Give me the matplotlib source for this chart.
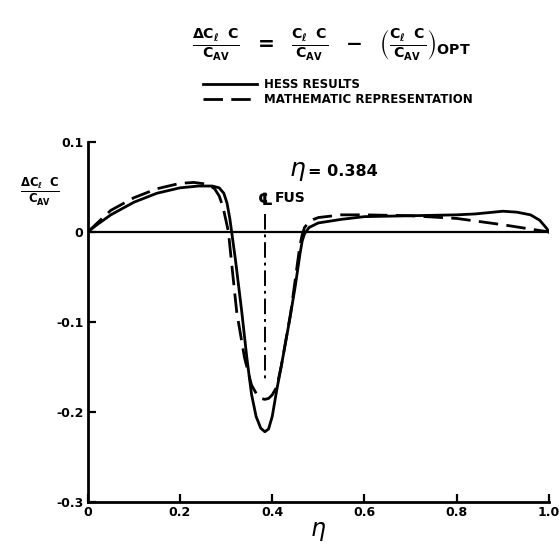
import matplotlib
matplotlib.use("Agg")
import matplotlib.pyplot as plt

# spanwise station and load increment
hess_eta = [0.0, 0.02, 0.05, 0.10, 0.15, 0.20, 0.24, 0.27, 0.285, 0.295, 0.302, 0.308,
            0.312, 0.32, 0.334, 0.345, 0.355, 0.365, 0.375, 0.384, 0.392, 0.40, 0.41,
            0.42, 0.438, 0.45, 0.46, 0.465, 0.47, 0.48, 0.50, 0.55, 0.60, 0.70, 0.80,
            0.84, 0.88, 0.90, 0.93, 0.96, 0.98, 0.995, 1.0]
hess_dcl = [0.0, 0.008, 0.019, 0.033, 0.043, 0.049, 0.051, 0.051, 0.049, 0.043, 0.032, 0.015,
            0.0, -0.03, -0.089, -0.14, -0.18, -0.205, -0.218, -0.222, -0.219, -0.205, -0.175,
            -0.148, -0.097, -0.06, -0.025, -0.01, -0.002, 0.005, 0.01, 0.014, 0.017, 0.018, 0.019,
            0.02, 0.022, 0.023, 0.022, 0.019, 0.013, 0.004, 0.0]

math_eta = [0.0, 0.05, 0.10, 0.15, 0.20, 0.23, 0.26, 0.275, 0.285, 0.293, 0.30, 0.305,
            0.313, 0.323, 0.34, 0.355, 0.367, 0.376, 0.384, 0.392, 0.40, 0.41, 0.42,
            0.44, 0.452, 0.46, 0.465, 0.47, 0.48, 0.49, 0.50, 0.55, 0.60, 0.70, 0.80,
            0.90, 1.0]
math_dcl = [0.0, 0.024, 0.038, 0.048, 0.054, 0.055, 0.053, 0.048, 0.04, 0.028, 0.012, 0.0,
            -0.04, -0.089, -0.14, -0.17, -0.181, -0.185, -0.186, -0.185, -0.181, -0.172, -0.148,
            -0.09, -0.045, -0.015, -0.003, 0.005, 0.011, 0.014, 0.016, 0.019, 0.019, 0.018, 0.015,
            0.008, 0.0]

fus_eta = 0.384
fus_span = [0.02, -0.163]

x_ticks = [0.0, 0.2, 0.4, 0.6, 0.8, 1.0]
x_labels = ["0", "0.2", "0.4", "0.6", "0.8", "1.0"]
y_ticks = [0.1, 0.0, -0.1, -0.2, -0.3]
y_labels = ["0.1", "0", "-0.1", "-0.2", "-0.3"]

plt.rcParams["mathtext.fontset"] = "dejavusans"
plt.rcParams["mathtext.default"] = "bf"
plt.rcParams["font.family"] = ["DejaVu Sans"]

fig = plt.figure(figsize=(5.59, 5.48), dpi=100)
ax = fig.add_axes([0.157, 0.084, 0.825, 0.657])

ax.plot(hess_eta, hess_dcl, color="black", lw=2.0, label="HESS RESULTS")
ax.plot(math_eta, math_dcl, color="black", lw=2.0, dashes=(7, 3),
        label="MATHEMATIC REPRESENTATION")
ax.plot([0.0, 1.0], [0.0, 0.0], color="black", lw=1.6)
ax.plot([fus_eta, fus_eta], fus_span, color="black", lw=1.4, dashes=(8, 2.5, 1.5, 2.5))

ax.set_xlim(0.0, 1.0)
ax.set_ylim(-0.3, 0.1)
ax.spines["top"].set_visible(False)
ax.spines["right"].set_visible(False)
ax.spines["left"].set_linewidth(2.0)
ax.spines["bottom"].set_linewidth(2.0)

ax.set_xticks(x_ticks)
ax.set_xticklabels(x_labels, fontweight="bold", fontsize=9)
ax.set_yticks(y_ticks)
ax.set_yticklabels(y_labels, fontweight="bold", fontsize=9)
ax.tick_params(direction="in", length=6, width=1.6, pad=3)

ax.set_xlabel(r"$\mathit{\eta}$", fontsize=17, labelpad=0)
ax.text(-0.104, 0.044, r"$\frac{\Delta C_\ell\ \ C}{C_{AV}}$", fontsize=12,
        ha="center", va="center", clip_on=False)

ax.text(0.455, 0.068, r"$\mathit{\eta}$", fontsize=18, ha="center", va="center")
ax.text(0.478, 0.067, "= 0.384", fontsize=11.5, fontweight="bold", ha="left", va="center")
ax.text(fus_eta, 0.036, "\u2104", fontsize=12, fontweight="bold", ha="center", va="center")
ax.text(0.405, 0.038, "FUS", fontsize=10, fontweight="bold", ha="left", va="center")

fig.text(0.593, 0.918,
         r"$\frac{\Delta C_\ell\ \ C}{C_{AV}}\ \ =\ \ \frac{C_\ell\ \ C}{C_{AV}}\ \ -\ \ \left(\frac{C_\ell\ \ C}{C_{AV}}\right)_{OPT}$",
         fontsize=14.5, ha="center", va="center")

leg = ax.legend(loc="upper left", bbox_to_anchor=(0.352, 0.868),
                bbox_transform=fig.transFigure, frameon=False, handlelength=4.6,
                handletextpad=0.6, labelspacing=0.15, borderpad=0,
                prop={"weight": "bold", "size": 8.5})

fig.savefig("out.png", dpi=100)
